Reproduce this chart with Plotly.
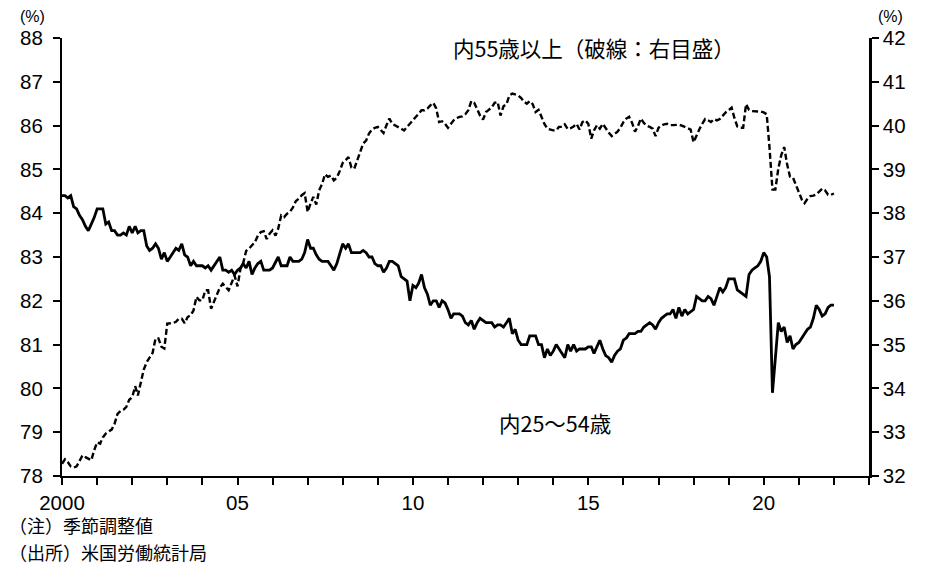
import pandas as pd
import plotly.graph_objects as go

# ---- data (monthly, Jan 2000 - Jan 2022) ----
start_month = "2000-01-01"

lfpr_25_54 = [
    84.4, 84.4, 84.35, 84.4, 84.15, 84.1, 83.95, 83.85, 83.7, 83.6, 83.75, 83.9,
    84.1, 84.1, 84.1, 83.75, 83.8, 83.6, 83.6, 83.5, 83.5, 83.55, 83.5, 83.7,
    83.55, 83.7, 83.55, 83.6, 83.6, 83.25, 83.15, 83.2, 83.3, 83.2, 82.95, 83.1,
    82.9, 83.0, 83.1, 83.2, 83.15, 83.3, 83.05, 83.0, 82.8, 82.9, 82.8, 82.8,
    82.8, 82.75, 82.8, 82.7, 82.8, 82.9, 83.0, 82.7, 82.7, 82.65, 82.7, 82.6,
    82.7, 82.75, 82.85, 82.75, 82.9, 82.6, 82.75, 82.85, 82.9, 82.7, 82.7, 82.7,
    82.75, 82.9, 83.0, 82.8, 82.8, 82.8, 83.0, 82.9, 82.9, 82.9, 82.95, 83.1,
    83.4, 83.2, 83.2, 83.05, 82.95, 82.9, 82.9, 82.9, 82.8, 82.7, 82.85, 83.05,
    83.3, 83.2, 83.3, 83.1, 83.1, 83.1, 83.1, 83.15, 83.1, 83.0, 83.0, 82.85,
    82.8, 82.8, 82.65, 82.75, 82.9, 82.9, 82.85, 82.8, 82.55, 82.5, 82.45, 82.0,
    82.35, 82.3, 82.4, 82.6, 82.3, 82.15, 81.9, 82.0, 82.0, 81.85, 82.0, 81.95,
    81.8, 81.6, 81.7, 81.7, 81.7, 81.65, 81.5, 81.45, 81.55, 81.35, 81.5, 81.6,
    81.55, 81.5, 81.5, 81.5, 81.4, 81.45, 81.45, 81.4, 81.5, 81.6, 81.25, 81.35,
    81.1, 81.0, 81.0, 81.0, 81.2, 81.2, 81.2, 81.0, 81.0, 80.7, 80.9, 80.75,
    80.85, 81.0, 80.9, 80.8, 80.7, 81.0, 80.85, 81.0, 80.85, 80.9, 80.9, 80.9,
    80.95, 80.95, 80.8, 80.95, 81.1, 80.9, 80.75, 80.7, 80.6, 80.75, 80.85, 80.9,
    81.1, 81.15, 81.25, 81.25, 81.25, 81.3, 81.3, 81.4, 81.45, 81.5, 81.45, 81.35,
    81.5, 81.6, 81.65, 81.7, 81.7, 81.8, 81.6, 81.85, 81.65, 81.8, 81.7, 81.75,
    81.8, 82.1, 82.05, 82.0, 82.0, 82.1, 82.05, 81.9, 82.1, 82.3, 82.2, 82.3,
    82.5, 82.5, 82.5, 82.25, 82.2, 82.15, 82.1, 82.6, 82.7, 82.75, 82.8, 82.9,
    83.1, 83.0, 82.55, 79.9, 80.7, 81.5, 81.3, 81.4, 81.05, 81.2, 80.9, 81.0,
    81.05, 81.15, 81.25, 81.35, 81.4, 81.6, 81.9, 81.8, 81.65, 81.7, 81.85, 81.9,
    81.9,
]

lfpr_55_plus = [
    32.28, 32.38, 32.32, 32.22, 32.19, 32.22, 32.34, 32.47, 32.43, 32.40, 32.36, 32.59,
    32.77, 32.74, 32.88, 32.97, 33.02, 33.06, 33.19, 33.42, 33.48, 33.51, 33.58, 33.74,
    33.80, 34.05, 33.84, 34.18, 34.43, 34.60, 34.70, 34.81, 35.14, 35.14, 34.95, 34.91,
    35.48, 35.49, 35.49, 35.52, 35.59, 35.59, 35.49, 35.63, 35.67, 35.78, 36.09, 36.01,
    36.01, 36.24, 36.24, 35.82, 35.97, 36.16, 36.30, 36.39, 36.30, 36.24, 36.41, 36.58,
    36.33, 36.73, 36.86, 37.14, 37.19, 37.27, 37.34, 37.49, 37.57, 37.59, 37.41, 37.53,
    37.61, 37.49, 37.65, 37.95, 37.91, 37.99, 38.03, 38.13, 38.28, 38.33, 38.41, 38.46,
    38.03, 38.22, 38.37, 38.20, 38.52, 38.67, 38.89, 38.83, 38.86, 38.75, 38.81, 38.96,
    39.15, 39.21, 39.28, 39.04, 39.02, 39.21, 39.42, 39.59, 39.66, 39.82, 39.91, 39.95,
    39.97, 39.89, 39.83, 40.01, 40.16, 40.04, 40.01, 39.97, 39.93, 39.89, 39.97, 40.06,
    40.12, 40.20, 40.27, 40.35, 40.35, 40.39, 40.46, 40.52, 40.39, 40.08, 40.10, 40.04,
    39.95, 40.03, 40.12, 40.17, 40.20, 40.21, 40.26, 40.35, 40.56, 40.52, 40.39, 40.23,
    40.14, 40.31, 40.36, 40.42, 40.52, 40.54, 40.23, 40.44, 40.49, 40.69, 40.73, 40.71,
    40.69, 40.63, 40.55, 40.50, 40.56, 40.49, 40.31, 40.36, 40.18, 40.04, 39.93, 39.91,
    39.89, 39.89, 39.97, 39.97, 40.03, 39.92, 39.94, 39.98, 40.04, 39.91, 40.08, 40.12,
    40.04, 39.70, 39.89, 40.01, 39.93, 40.04, 39.93, 39.84, 39.76, 39.82, 39.86, 39.95,
    40.08, 40.16, 40.20, 40.06, 39.86, 39.99, 40.16, 40.06, 40.00, 39.97, 39.93, 39.76,
    39.95, 40.00, 40.03, 40.04, 40.01, 40.01, 40.01, 40.02, 40.00, 39.97, 39.95, 39.91,
    39.62, 39.79, 39.91, 40.04, 40.15, 40.12, 40.08, 40.15, 40.12, 40.15, 40.23, 40.30,
    40.35, 40.41, 40.18, 39.98, 39.95, 39.95, 40.49, 40.36, 40.33, 40.33, 40.33, 40.32,
    40.30, 40.26, 39.51, 38.54, 38.54, 39.02, 39.32, 39.51, 39.11, 38.83, 38.81, 38.66,
    38.50, 38.31, 38.23, 38.33, 38.39, 38.40, 38.43, 38.49, 38.56, 38.52, 38.42, 38.42,
    38.45,
]

tick_years = list(range(2000, 2024))
tick_labels = ["2000", "", "", "", "", "05", "", "", "", "", "10", "", "", "", "",
               "15", "", "", "", "", "20", "", "", ""]

left_ticks = list(range(78, 89))
right_ticks = list(range(32, 43))

label_55 = "内55歳以上（破線：右目盛）"
label_25 = "内25〜54歳"
note_text = "（注）季節調整値"
source_text = "（出所）米国労働統計局"
unit_text = "(%)"

months = pd.date_range(start_month, periods=len(lfpr_25_54), freq="MS")
tick_dates = [pd.Timestamp(f"{y}-01-01") for y in tick_years]

NUM_FONT = "Liberation Sans, Arial, sans-serif"
JP_FONT = "Noto Sans CJK JP, sans-serif"

# the page body adds an 8px margin; the figure is sized to fill the rest
FIG_W, FIG_H = 917, 572
ML, MR, MT, MB = 54, 56, 30, 104

fig = go.Figure()
fig.add_trace(go.Scatter(
    x=months, y=lfpr_25_54, mode="lines", name=label_25,
    line=dict(color="black", width=2.8), yaxis="y",
))
fig.add_trace(go.Scatter(
    x=months, y=lfpr_55_plus, mode="lines", name=label_55,
    line=dict(color="black", width=2.4, dash="6px,3px"), yaxis="y2",
))

axis_common = dict(
    showgrid=False, zeroline=False, showline=True, linecolor="black",
    linewidth=2, ticks="outside", ticklen=7, tickwidth=2, tickcolor="black",
    tickfont=dict(family=NUM_FONT, size=20.5, color="black"),
)

fig.update_layout(
    width=FIG_W, height=FIG_H,
    margin=dict(l=ML, r=MR, t=MT, b=MB),
    paper_bgcolor="white", plot_bgcolor="white",
    showlegend=False,
    xaxis=dict(
        **axis_common,
        type="date",
        range=[tick_dates[0], tick_dates[-1]],
        tickmode="array", tickvals=tick_dates, ticktext=tick_labels,
        ticklabelstandoff=0,
    ),
    yaxis=dict(
        **axis_common,
        range=[left_ticks[0], left_ticks[-1]],
        tickmode="array", tickvals=left_ticks,
        ticklabelstandoff=6,
    ),
    yaxis2=dict(
        **axis_common,
        range=[right_ticks[0], right_ticks[-1]],
        tickmode="array", tickvals=right_ticks,
        overlaying="y", side="right",
        ticklabelstandoff=0,
    ),
)
fig.update_layout(yaxis2_linewidth=2.5)

plot_w = FIG_W - ML - MR
plot_h = FIG_H - MT - MB

# text positions in figure pixels (top-left origin)
annotations = [
    dict(text=label_55, x=586, y=40, size=21.5, xanchor="center", font=JP_FONT),
    dict(text=label_25, x=547, y=414, size=21.5, xanchor="center", font=JP_FONT),
    dict(text=note_text, x=0, y=517, size=18, xanchor="left", font=JP_FONT),
    dict(text=source_text, x=0, y=544, size=18, xanchor="left", font=JP_FONT),
    dict(text=unit_text, x=25, y=-1, size=16, xanchor="center", yanchor="top", font=NUM_FONT),
    dict(text=unit_text, x=882, y=-1, size=16, xanchor="center", yanchor="top", font=NUM_FONT),
]
for a in annotations:
    fig.add_annotation(
        text=a["text"],
        x=(a["x"] - ML) / plot_w, y=1 - (a["y"] - MT) / plot_h,
        xref="paper", yref="paper",
        xanchor=a["xanchor"], yanchor=a.get("yanchor", "middle"),
        showarrow=False, borderpad=0,
        font=dict(family=a["font"], color="black", size=a["size"]),
    )

fig.write_html("out.html")
